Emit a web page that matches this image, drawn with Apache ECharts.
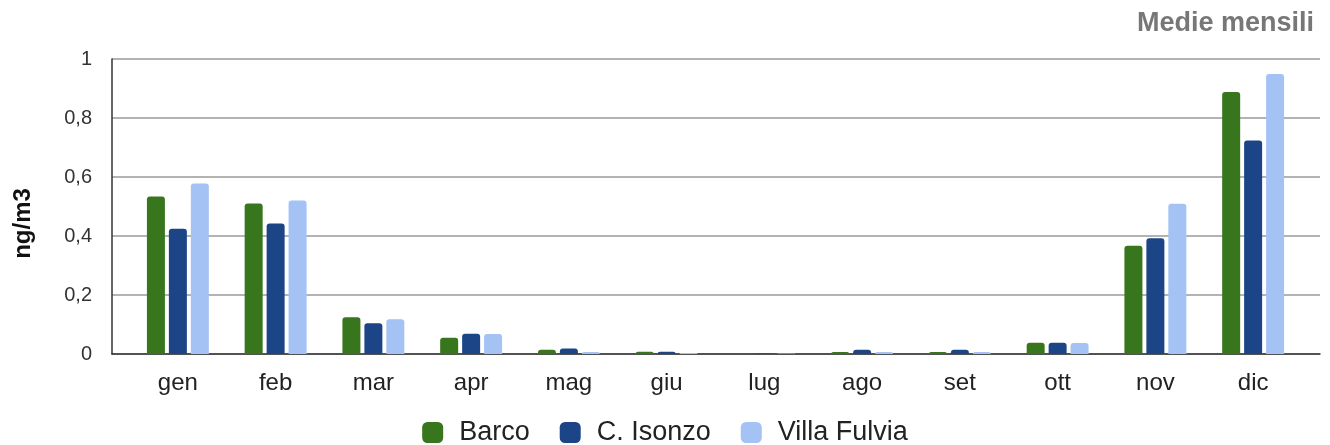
<!DOCTYPE html>
<html>
<head>
<meta charset="utf-8">
<script src="https://cdn.jsdelivr.net/npm/echarts@6/dist/echarts.min.js"></script>
<style>
  html, body { margin: 0; padding: 0; background: #fff; }
  #chart { width: 1330px; height: 445px; }
</style>
</head>
<body>
<div id="chart"></div>
<script>
const months = ['gen', 'feb', 'mar', 'apr', 'mag', 'giu', 'lug', 'ago', 'set', 'ott', 'nov', 'dic']
const barco = [0.534, 0.51, 0.125, 0.055, 0.014, 0.008, 0.002, 0.007, 0.007, 0.038, 0.367, 0.888]
const isonzo = [0.425, 0.442, 0.104, 0.069, 0.019, 0.008, 0.002, 0.014, 0.014, 0.038, 0.392, 0.724]
const villaFulvia = [0.578, 0.52, 0.118, 0.068, 0.007, 0.003, 0.002, 0.007, 0.007, 0.037, 0.509, 0.949]

const font = 'Liberation Sans, Arial, sans-serif'
const chart = echarts.init(document.getElementById('chart'))

function bar(name, data, color) {
  return {
    name: name,
    type: 'bar',
    xAxisIndex: 1,
    yAxisIndex: 1,
    data: data,
    barWidth: 18,
    barGap: '22%',
    itemStyle: { color: color, borderRadius: [3, 3, 0, 0] }
  }
}

chart.setOption({
  animation: false,
  textStyle: { fontFamily: font },
  title: {
    text: 'Medie mensili',
    right: 11,
    top: 5,
    textStyle: { fontSize: 27, fontWeight: 'bold', color: '#777', fontFamily: font }
  },
  legend: {
    top: 414,
    left: 'center',
    itemWidth: 21,
    itemHeight: 21,
    itemGap: 30,
    icon: 'roundRect',
    textStyle: { fontSize: 27, color: '#222', fontFamily: font, padding: [0, 0, 0, 11] }
  },
  // outer grid draws gridlines and axes; inner grid holds the bars (padded like the original)
  grid: [
    { left: 112, right: 10, top: 59, bottom: 91 },
    { left: 129, right: 28, top: 59, bottom: 91 }
  ],
  xAxis: [
    {
      type: 'category',
      gridIndex: 0,
      data: months,
      axisTick: { show: false },
      axisLabel: { show: false },
      axisLine: { lineStyle: { color: '#333', width: 1.5 } }
    },
    {
      type: 'category',
      gridIndex: 1,
      data: months,
      axisTick: { show: false },
      axisLine: { show: false },
      axisLabel: { fontSize: 24, color: '#222', margin: 17 }
    }
  ],
  yAxis: [
    {
      type: 'value',
      gridIndex: 0,
      min: 0,
      max: 1,
      interval: 0.2,
      name: 'ng/m3',
      nameLocation: 'middle',
      nameGap: 77,
      nameTextStyle: { fontSize: 24, fontWeight: 'bold', color: '#111', padding: [0, 34, 0, 0] },
      axisLine: { show: true, lineStyle: { color: '#333', width: 1.5 } },
      axisTick: { show: false },
      splitLine: { lineStyle: { color: '#9a9a9a', width: 1.5 } },
      axisLabel: {
        fontSize: 20,
        color: '#333',
        margin: 20,
        formatter: v => String(+v.toFixed(1)).replace('.', ',')
      }
    },
    {
      type: 'value',
      gridIndex: 1,
      min: 0,
      max: 1,
      show: false
    }
  ],
  series: [
    bar('Barco', barco, '#38761d'),
    bar('C. Isonzo', isonzo, '#1c4587'),
    bar('Villa Fulvia', villaFulvia, '#a4c2f4')
  ]
})
</script>
</body>
</html>
